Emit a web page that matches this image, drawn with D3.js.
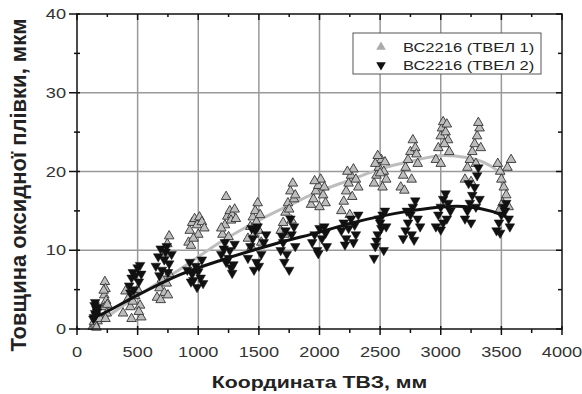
<!DOCTYPE html>
<html><head><meta charset="utf-8">
<script src="https://cdn.jsdelivr.net/npm/d3@7/dist/d3.min.js"></script>
<style>body{margin:0;background:#fff}svg{display:block}</style>
</head><body>
<svg id="c" width="582" height="394"></svg>
<script>
const xTicks = [0,500,1000,1500,2000,2500,3000,3500,4000];
const yTicks = [0,10,20,30,40];
const seriesNames = ["ВС2216 (ТВЕЛ 1)", "ВС2216 (ТВЕЛ 2)"];
const xTitle = "Координата ТВЗ, мм";
const yTitle = "Товщина оксидної плівки, мкм";

// TVEL 1 (grey up-triangles) [coordinate mm, thickness um]
const tvel1 = [
 [130,0.3],[150,0.6],[170,1.0],[140,0.9],[190,1.3],[160,0.2],
 [230,6.0],[235,5.1],[225,4.3],[240,3.6],[230,2.8],[245,2.0],[235,1.3],[250,3.1],[220,4.9],
 [400,4.8],[420,3.8],[440,2.8],[460,3.5],[480,4.2],[500,5.0],[520,3.0],[530,1.5],[510,2.2],[380,2.0],[450,1.3],
 [660,4.0],[680,5.2],[700,6.3],[720,4.6],[740,5.8],[760,7.0],[690,3.7],[750,4.3],[730,9.6],[745,10.8],[760,11.8],
 [920,11.0],[930,12.5],[950,13.5],[970,14.0],[990,13.2],[1010,14.2],[1030,13.6],[1050,12.8],[1000,12.0],[940,10.6],[960,11.5],
 [1200,12.0],[1220,13.2],[1240,14.3],[1260,15.0],[1280,14.5],[1300,15.2],[1230,16.8],[1250,11.7],[1270,13.8],[1310,14.0],[1190,12.8],
 [1410,11.5],[1430,13.0],[1450,14.2],[1470,15.0],[1490,16.0],[1500,12.5],[1520,11.0],[1440,10.4],[1460,12.0],[1480,13.6],[1510,14.5],
 [1680,12.5],[1700,13.5],[1720,14.8],[1740,16.0],[1760,17.5],[1780,18.5],[1790,16.5],[1750,15.2],[1710,12.0],[1770,13.8],[1800,17.0],
 [1930,15.8],[1950,16.5],[1970,17.5],[1990,18.2],[2010,19.0],[2030,17.0],[2050,16.0],[1960,18.8],[2000,15.5],[2040,18.0],
 [2180,15.0],[2200,16.2],[2220,17.5],[2240,18.5],[2260,19.5],[2280,20.3],[2300,19.0],[2320,18.0],[2250,14.5],[2270,16.8],[2230,20.0],
 [2450,18.5],[2470,19.5],[2490,20.5],[2510,21.5],[2530,20.0],[2550,19.0],[2480,22.0],[2520,18.0],[2460,21.0],[2540,21.2],[2500,19.8],
 [2670,18.0],[2690,19.5],[2710,20.5],[2730,21.5],[2750,22.5],[2770,24.0],[2790,23.0],[2810,21.0],[2700,17.6],[2760,19.0],[2800,22.2],
 [2960,21.5],[2980,23.0],[3000,24.5],[3010,25.5],[3020,26.3],[3040,25.0],[3060,24.0],[3070,22.5],[3000,21.0],[3030,23.5],[3050,26.0],
 [3200,19.0],[3220,20.5],[3240,21.5],[3260,22.5],[3280,23.5],[3300,24.5],[3320,25.5],[3310,26.2],[3250,18.7],[3290,21.0],[3330,23.0],
 [3470,21.0],[3490,20.0],[3500,19.0],[3520,18.0],[3540,17.0],[3560,15.5],[3580,21.5],[3510,16.0],[3550,20.5],[3480,15.0]
];
// TVEL 2 (black down-triangles)
const tvel2 = [
 [140,1.5],[150,2.0],[160,2.5],[145,3.0],[155,1.8],[165,2.2],[135,1.3],[170,2.8],[150,3.4],
 [430,5.5],[450,6.5],[460,7.2],[470,5.0],[500,7.8],[520,8.1],[530,7.0],[510,6.0],[480,6.8],[440,4.6],
 [650,8.0],[670,9.2],[690,10.2],[700,7.5],[720,8.8],[730,9.8],[750,7.2],[760,8.3],[780,9.5],[680,6.8],[740,10.5],
 [910,7.5],[930,8.5],[950,7.0],[960,6.2],[980,8.0],[1000,7.3],[1020,6.5],[1030,8.8],[1040,5.8],[990,5.3],[940,6.0],
 [1190,9.5],[1210,10.2],[1230,8.5],[1250,9.0],[1270,7.8],[1290,8.2],[1300,10.8],[1280,7.1],[1220,11.0],[1260,10.0],
 [1410,9.0],[1430,10.5],[1450,11.5],[1470,12.5],[1490,13.0],[1500,8.0],[1520,9.5],[1540,11.0],[1560,12.0],[1460,7.5],[1480,8.5],[1440,12.8],
 [1680,10.0],[1700,11.0],[1710,8.5],[1730,9.5],[1750,7.5],[1770,12.0],[1790,13.0],[1800,10.5],[1720,12.5],[1760,14.0],[1690,11.8],
 [1940,11.0],[1960,12.0],[1980,10.0],[2000,12.8],[2020,11.5],[2040,13.0],[2060,10.5],[1990,9.6],[2050,12.2],
 [2180,12.5],[2200,13.5],[2220,11.5],[2240,12.8],[2260,14.0],[2280,11.0],[2300,12.0],[2320,14.5],[2210,10.7],[2290,13.2],
 [2450,9.0],[2460,10.5],[2480,12.0],[2500,13.5],[2520,14.5],[2540,15.0],[2470,11.2],[2510,12.8],[2530,10.0],[2490,14.0],[2550,13.0],
 [2690,11.5],[2710,12.5],[2730,13.5],[2750,14.5],[2770,15.5],[2790,16.3],[2810,14.0],[2830,13.0],[2760,12.0],[2720,15.0],[2780,11.3],
 [2960,13.0],[2980,14.5],[3000,15.5],[3020,16.5],[3040,17.2],[3060,16.0],[3080,15.0],[3000,12.6],[3050,14.0],[3020,13.5],
 [3200,14.0],[3220,15.0],[3240,16.0],[3260,17.0],[3280,18.0],[3300,19.5],[3310,20.5],[3250,13.5],[3290,15.5],[3320,16.5],[3230,18.5],
 [3460,12.5],[3480,13.5],[3500,14.5],[3520,15.5],[3540,16.0],[3560,14.0],[3570,13.0],[3490,12.2],[3530,15.0]
];
// fitted trend curves
const fit1 = [[130,0.5],[200,1.1],[500,4.2],[850,7.6],[1200,11.2],[1500,13.8],[1750,15.7],[2000,17.5],[2250,18.9],[2500,20.3],[2750,21.3],[3000,22.0],[3200,21.8],[3350,21.2],[3460,20.2],[3520,19.3]];
const fit2 = [[130,1.5],[206,1.9],[500,4.3],[850,6.9],[1200,8.8],[1630,10.8],[2000,12.3],[2250,13.4],[2500,14.3],[2750,15.0],[3000,15.5],[3240,15.5],[3430,14.9],[3545,14.2]];

const W = 582, H = 394;
const m = {l:77, r:20, t:14, b:65};
const svg = d3.select("#c");
const x = d3.scaleLinear().domain([0,4000]).range([m.l, W-m.r]);
const y = d3.scaleLinear().domain([0,40]).range([H-m.b, m.t]);
const font = "'Liberation Sans', Arial, sans-serif";

// grid
const g = svg.append("g");
g.selectAll("line.vg").data(xTicks.slice(1,-1)).join("line")
 .attr("x1",d=>x(d)).attr("x2",d=>x(d)).attr("y1",y(0)).attr("y2",y(40))
 .attr("stroke","#999").attr("stroke-width",1.5);
g.selectAll("line.hg").data(yTicks.slice(1,-1)).join("line")
 .attr("y1",d=>y(d)).attr("y2",d=>y(d)).attr("x1",x(0)).attr("x2",x(4000))
 .attr("stroke","#999").attr("stroke-width",1.5);

// curves
const line = d3.line().x(d=>x(d[0])).y(d=>y(d[1])).curve(d3.curveCatmullRom);
svg.append("path").datum(fit1).attr("d",line).attr("fill","none").attr("stroke","#bdbdbd").attr("stroke-width",3);

// points
const up = d3.symbol().type(d3.symbolTriangle).size(40);
svg.append("g").selectAll("path").data(tvel1).join("path")
 .attr("d",up).attr("transform",d=>`translate(${x(d[0])},${y(d[1])})`)
 .attr("fill","#bdbdbd").attr("stroke","#333").attr("stroke-width",0.9);
svg.append("g").selectAll("path").data(tvel2).join("path")
 .attr("d",up).attr("transform",d=>`translate(${x(d[0])},${y(d[1])}) rotate(180)`)
 .attr("fill","#111").attr("stroke","#111").attr("stroke-width",0.5);

svg.append("path").datum(fit2).attr("d",line).attr("fill","none").attr("stroke","#111").attr("stroke-width",3);

// frame
svg.append("rect").attr("x",x(0)).attr("y",y(40)).attr("width",x(4000)-x(0)).attr("height",y(0)-y(40))
 .attr("fill","none").attr("stroke","#111").attr("stroke-width",1.5);

// ticks
const xMinor = d3.range(250,4000,500);
const yMinor = d3.range(5,40,10);
const tk = svg.append("g").attr("stroke","#111").attr("stroke-width",1.5);
xTicks.forEach(d=>{
  tk.append("line").attr("x1",x(d)).attr("x2",x(d)).attr("y1",y(0)-3).attr("y2",y(0)+6);
  tk.append("line").attr("x1",x(d)).attr("x2",x(d)).attr("y1",y(40)).attr("y2",y(40)+6);
});
xMinor.forEach(d=>{
  tk.append("line").attr("x1",x(d)).attr("x2",x(d)).attr("y1",y(0)).attr("y2",y(0)+4);
  tk.append("line").attr("x1",x(d)).attr("x2",x(d)).attr("y1",y(40)).attr("y2",y(40)+3);
});
yTicks.forEach(d=>{
  tk.append("line").attr("y1",y(d)).attr("y2",y(d)).attr("x1",x(0)-8).attr("x2",x(0)+3);
  tk.append("line").attr("y1",y(d)).attr("y2",y(d)).attr("x1",x(4000)-6).attr("x2",x(4000));
});
yMinor.forEach(d=>{
  tk.append("line").attr("y1",y(d)).attr("y2",y(d)).attr("x1",x(0)-3).attr("x2",x(0)+3);
  tk.append("line").attr("y1",y(d)).attr("y2",y(d)).attr("x1",x(4000)-4).attr("x2",x(4000));
});

// tick labels
svg.append("g").selectAll("text").data(xTicks).join("text")
 .attr("transform",d=>`translate(${x(d)},${y(0)+28}) scale(1.3,1)`)
 .attr("text-anchor","middle").attr("font-family",font).attr("font-size",14).attr("fill","#333")
 .text(d=>d);
svg.append("g").selectAll("text").data(yTicks).join("text")
 .attr("transform",d=>`translate(${x(0)-11},${y(d)+5}) scale(1.3,1)`)
 .attr("text-anchor","end").attr("font-family",font).attr("font-size",14).attr("fill","#333")
 .text(d=>d);

// axis titles
svg.append("text").attr("transform",`translate(${(x(0)+x(4000))/2},${H-6}) scale(1.33,1)`)
 .attr("text-anchor","middle").attr("font-family",font).attr("font-weight","bold").attr("font-size",16).attr("fill","#222")
 .text(xTitle);
svg.append("text").attr("transform",`translate(26,185) rotate(-90)`)
 .attr("text-anchor","middle").attr("font-family",font).attr("font-weight","bold").attr("font-size",22).attr("fill","#222")
 .text(yTitle);

// legend
const lg = svg.append("g");
lg.append("rect").attr("x",353).attr("y",33).attr("width",188).attr("height",41).attr("fill","#fff").attr("stroke","#555").attr("stroke-width",1);
lg.append("path").attr("d",up).attr("transform","translate(381,47)").attr("fill","#aaa");
lg.append("path").attr("d",up).attr("transform","translate(381,65) rotate(180)").attr("fill","#111");
seriesNames.forEach((s,i)=>{
  lg.append("text").attr("transform",`translate(403,${52+i*18}) scale(1.27,1)`)
   .attr("font-family",font).attr("font-size",13).attr("fill","#222").text(s);
});
</script>
</body></html>
